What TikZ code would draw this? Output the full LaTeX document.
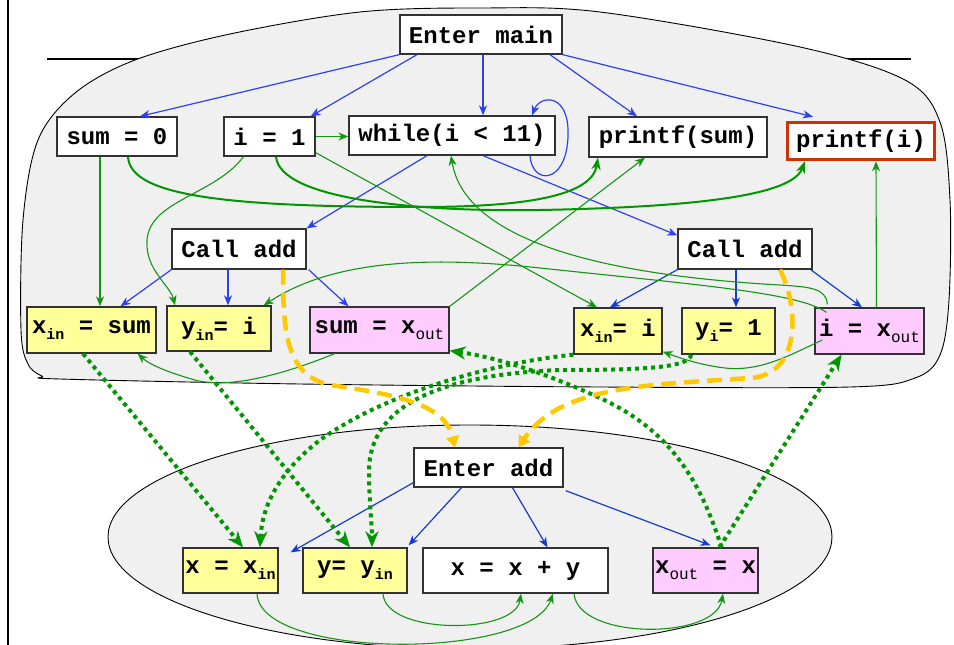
\documentclass[tikz,border=0pt]{standalone}
\usepackage{fontspec}
\usetikzlibrary{arrows.meta}
\newfontfamily\courf{Liberation Mono}
\definecolor{bA}{RGB}{45,65,240}
\definecolor{bB}{RGB}{20,60,205}
\definecolor{gA}{RGB}{20,150,20}
\definecolor{gD}{RGB}{0,150,0}
\definecolor{yel}{RGB}{255,200,0}
\definecolor{redc}{RGB}{204,51,0}
\definecolor{yfill}{RGB}{255,255,153}
\definecolor{pfill}{RGB}{255,204,255}
\definecolor{boxc}{RGB}{50,50,50}
\definecolor{blob}{RGB}{240,240,240}
\newcommand\sbx[1]{\raisebox{-6pt}{\fontsize{15}{15}\selectfont #1}}
\newcommand\sbo[1]{\raisebox{-6pt}{\fontsize{16}{16}\selectfont\mdseries #1}}
\tikzset{
  box/.style={draw=boxc, line width=1.3pt, fill=white, inner sep=0pt,
    font=\courf\bfseries\fontsize{24}{28}\selectfont, minimum height=39pt},
  ylw/.style={box, fill=yfill, minimum height=46pt},
  pnk/.style={box, fill=pfill, minimum height=46pt},
  bl/.style={draw=bA, line width=1.2pt, -{Stealth[length=10pt,width=8pt,inset=3pt]}},
  blb/.style={draw=bB, line width=1.2pt, -{Stealth[length=10pt,width=8pt,inset=3pt]}},
  gr/.style={draw=gA, line width=1.1pt, -{Stealth[length=10pt,width=8pt,inset=3pt]}},
  grk/.style={draw=gD, line width=2pt, -{Stealth[length=12pt,width=9pt,inset=3.5pt]}},
  dotg/.style={draw=gD, line width=4pt, dash pattern=on 4pt off 4pt, -{Stealth[length=16pt,width=13pt,inset=5pt]}},
  ydash/.style={draw=yel, line width=4.5pt, dash pattern=on 15pt off 8pt, -{Triangle[length=11pt,width=13pt]}}
}
\begin{document}
\begin{tikzpicture}[x=1pt,y=-1pt]
\useasboundingbox (0,0) rectangle (954,645);
% frame lines
\draw[line width=2.5pt] (8,0) -- (8,645);
\draw[line width=2.5pt] (47,59) -- (911,59);
% top blob
\draw[fill=blob, line width=0.9pt] plot[smooth cycle, tension=0.55] coordinates {
 (60,379) (300,384) (600,387) (850,387) (915,378) (940,355) (949,300) (950,200)
 (940,122) (905,80) (800,47) (600,12) (480,8) (360,12) (230,34) (135,60) (75,93)
 (38,140) (23,220) (21,330) (28,364) (42,376)};
% bottom ellipse
\draw[fill=blob, line width=0.9pt] (470,537) ellipse [x radius=362, y radius=112];

% nodes
\node[box, minimum width=162pt] (main) at (481,34.5) {Enter main};
\node[box, minimum width=120pt] (sum0) at (117,136.5) {sum = 0};
\node[box, minimum width=91pt] (i1) at (269.5,136.5) {i = 1};
\node[box, minimum width=206pt] (wh) at (452,135.5) {while(i < 11)};
\node[box, minimum width=178pt, minimum height=40pt] (psum) at (678,137) {printf(sum)};
\node[box, draw=redc, line width=3.5pt, minimum width=147pt, minimum height=37pt] (pi) at (861,141) {printf(i)};
\node[box, minimum width=134pt, minimum height=40pt] (callL) at (239,249) {Call add};
\node[box, minimum width=134pt, minimum height=40pt] (callR) at (745,249) {Call add};
\node[ylw, minimum width=129pt] (xinsum) at (91.5,330) {x\sbx{in} = sum};
\node[ylw, minimum width=104pt, minimum height=45pt] (yini) at (219,328.5) {y\sbx{in}= i};
\node[pnk, minimum width=139pt] (sumxout) at (379.5,330) {sum = x\sbo{out}};
\node[ylw, minimum width=88pt] (xini) at (618,331) {x\sbx{in}= i};
\node[ylw, minimum width=93pt] (yi1) at (728.5,331) {y\sbx{i}= 1};
\node[pnk, minimum width=109pt] (ixout) at (869.5,331) {i = x\sbo{out}};
\node[box, minimum width=149pt] (eadd) at (488.5,467.5) {Enter add};
\node[ylw, minimum width=95pt, minimum height=45pt] (xxin) at (230.5,570.5) {x = x\sbx{in}};
\node[ylw, minimum width=104pt, minimum height=45pt] (yyin) at (355,570.5) {y= y\sbx{in}};
\node[box, minimum width=185pt, minimum height=45pt] (xxy) at (515.5,570.5) {x = x + y};
\node[pnk, minimum width=105pt, minimum height=45pt] (xoutx) at (705.5,570.5) {x\sbo{out} = x};

% blue control edges (top)
\draw[bl] (main.south west) -- ([xshift=23pt]sum0.north);
\draw[bl] ([xshift=-64pt]main.south) -- ([xshift=-5pt]i1.north east);
\draw[bl] ([xshift=2pt]main.south) -- ([xshift=31pt]wh.north);
\draw[bl] ([xshift=69pt]main.south) -- ([xshift=-41pt]psum.north);
\draw[bl] (main.south east) -- ([xshift=-48pt,yshift=4pt]pi.north);
\draw[bl] ([xshift=78pt]wh.south) .. controls (532,185) and (566,185) .. (568,137)
   .. controls (570,92) and (540,95) .. ([xshift=80pt]wh.north);
\draw[bl] ([xshift=-25pt]wh.south) -- (callL.north east);
\draw[bl] ([xshift=31pt]wh.south) -- ([yshift=-7pt]callR.north west);
\draw[bl] (callL.south west) -- ([xshift=29pt]xinsum.north);
\draw[bl] ([xshift=-11pt]callL.south) -- ([xshift=9pt]yini.north);
\draw[bl] ([xshift=2pt]callL.south east) -- ([xshift=-31pt]sumxout.north);
\draw[blb] (callR.south west) -- ([xshift=-8pt]xini.north);
\draw[blb] ([xshift=-9pt]callR.south) -- ([xshift=7.5pt]yi1.north);
\draw[blb] ([xshift=-2pt]callR.south east) -- ([xshift=-7.5pt]ixout.north);
% blue (bottom)
\draw[blb] ([yshift=5pt]eadd.south west) -- ([xshift=12pt,yshift=-5pt]xxin.north east);
\draw[blb] ([xshift=-27pt]eadd.south) -- ([xshift=1pt,yshift=2pt]yyin.north east);
\draw[blb] ([xshift=24pt]eadd.south) -- ([xshift=32pt]xxy.north);
\draw[blb] ([xshift=2pt,yshift=-3pt]eadd.south east) -- ([xshift=5pt,yshift=2pt]xoutx.north);

% green data edges
\draw[gr] (i1.east) -- (i1.east -| wh.west);
\draw[gr] ([xshift=-17pt]sum0.south) -- ([xshift=8.5pt]xinsum.north);
\draw[grk] ([xshift=11pt]sum0.south) .. controls (130,195) and (220,207) .. (420,207)
   .. controls (530,207) and (592,195) .. ([xshift=-80pt]psum.south);
\draw[grk] ([xshift=6.5pt]i1.south) .. controls (280,200) and (420,212) .. (540,210)
   .. controls (700,207) and (792,195) .. ([xshift=-56pt]pi.south);
\draw[gr] ([yshift=4pt]i1.south east) -- ([xshift=-21pt]xini.north);
\draw[gr] ([xshift=-26pt]i1.south) .. controls (215,195) and (150,200) .. (147,240)
   .. controls (145,270) and (170,285) .. ([xshift=-44pt]yini.north);
\draw[gr] ([xshift=12pt,yshift=-5pt]ixout.north west) .. controls (800,293) and (700,285) .. (540,268)
   .. controls (420,255) and (330,262) .. ([xshift=-8pt]yini.north east);
\draw[gr] ([xshift=13pt,yshift=3pt]ixout.north west) .. controls (826,288) and (810,287) .. (780,285)
   .. controls (600,275) and (465,240) .. ([xshift=-1pt]wh.south);
\draw[gr] (sumxout.north east) -- ([xshift=-33pt]psum.south);
\draw[gr] ([xshift=7pt]ixout.north) -- ([xshift=15pt]pi.south);
\draw[gr] ([xshift=-45pt]sumxout.south) .. controls (290,372) and (230,390) .. (195,380)
   .. controls (170,373) and (150,365) .. ([xshift=-19pt]xinsum.south east);
\draw[gr] ([xshift=8pt,yshift=-9pt]ixout.west) .. controls (790,355) and (760,372) .. (725,368)
   .. controls (700,365) and (680,358) .. ([yshift=3pt]xini.south east);
% green (bottom)
\draw[gr] ([xshift=26.5pt]xxin.south) .. controls (260,660) and (530,660) .. ([xshift=37.5pt]xxy.south);
\draw[gr] ([xshift=28pt]yyin.south) .. controls (385,635) and (515,635) .. ([xshift=5.5pt]xxy.south);
\draw[gr] ([xshift=58.5pt]xxy.south) .. controls (578,640) and (715,640) .. ([xshift=17.5pt]xoutx.south);

% dotted green (parameter passing)
\draw[dotg] ([xshift=-8.5pt]xinsum.south) -- ([xshift=12.5pt]xxin.north);
\draw[dotg] ([xshift=-29pt]yini.south) -- ([xshift=-5pt]yyin.north);
\draw[dotg] (xini.south west) .. controls (500,362) and (390,390) .. (320,440)
   .. controls (275,475) and (262,510) .. ([xshift=29.5pt]xxin.north);
\draw[dotg] ([xshift=-37.5pt]yi1.south) .. controls (690,368) and (640,370) .. (560,370)
   .. controls (430,375) and (370,410) .. (369,470)
   .. controls (369,500) and (372,525) .. ([xshift=17pt]yyin.north);
\draw[dotg] ([xshift=16pt]xoutx.north) .. controls (700,480) and (670,430) .. (600,398)
   .. controls (550,375) and (500,358) .. ([yshift=3pt]sumxout.south east);
\draw[dotg] ([xshift=14pt]xoutx.north) -- ([xshift=-28pt]ixout.south);

% yellow dashed (call/return)
\draw[ydash] ([xshift=44pt]callL.south) .. controls (283,330) and (285,375) .. (330,385)
   .. controls (400,395) and (445,405) .. ([xshift=-33.5pt]eadd.north);
\draw[ydash] ([xshift=35pt]callR.south) .. controls (800,310) and (800,375) .. (750,378)
   .. controls (650,385) and (560,385) .. ([xshift=30pt]eadd.north);
\end{tikzpicture}
\end{document}
